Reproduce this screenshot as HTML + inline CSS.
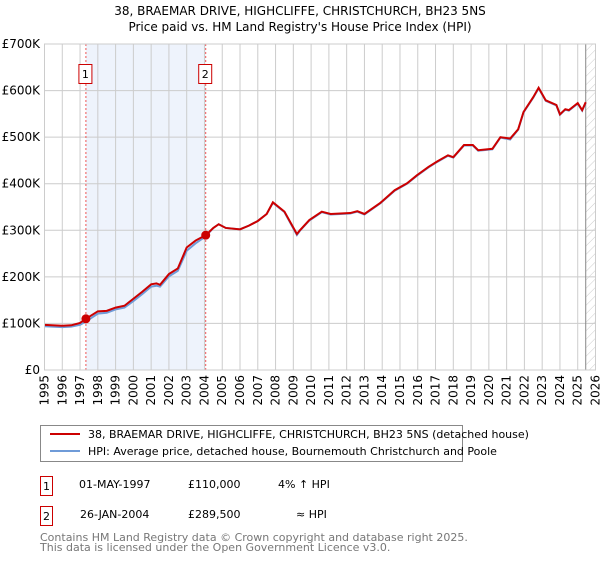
<!DOCTYPE html>
<html><head><meta charset="utf-8"><style>
body{margin:0;background:#fff;font-family:"DejaVu Sans","Liberation Sans",sans-serif;}
svg text{font-family:"DejaVu Sans","Liberation Sans",sans-serif;}
</style></head><body>
<svg id="c" width="600" height="560" xmlns="http://www.w3.org/2000/svg">
<defs><pattern id="hatch" width="6" height="6" patternUnits="userSpaceOnUse" patternTransform="rotate(45)"><line x1="0" y1="0" x2="0" y2="6" stroke="#ccc" stroke-width="1"/></pattern></defs>
<text x="300" y="15" text-anchor="middle" font-size="12">38, BRAEMAR DRIVE, HIGHCLIFFE, CHRISTCHURCH, BH23 5NS</text>
<text x="300" y="31" text-anchor="middle" font-size="12">Price paid vs. HM Land Registry's House Price Index (HPI)</text>
<g id="grid"></g><g id="marks"></g>
<rect x="44.5" y="44" width="551" height="326" fill="none" stroke="#ccc"/>
<g>
<rect x="40.5" y="425.5" width="422" height="36" fill="#fff" stroke="#888"/>
<line x1="50" y1="434" x2="80" y2="434" stroke="#cc0000" stroke-width="2"/>
<text x="88" y="438" font-size="11">38, BRAEMAR DRIVE, HIGHCLIFFE, CHRISTCHURCH, BH23 5NS (detached house)</text>
<line x1="50" y1="451" x2="80" y2="451" stroke="#6f9bd8" stroke-width="2"/>
<text x="88" y="455" font-size="11">HPI: Average price, detached house, Bournemouth Christchurch and Poole</text>
</g>
<g font-size="11">
<rect x="40.5" y="476.5" width="12" height="19" fill="#fff" stroke="#cc0000"/><text x="46.5" y="490" text-anchor="middle">1</text>
<text x="79" y="488">01-MAY-1997</text><text x="188" y="488">£110,000</text><text x="278" y="488">4% ↑ HPI</text>
<rect x="40.5" y="506.5" width="12" height="19" fill="#fff" stroke="#cc0000"/><text x="46.5" y="520" text-anchor="middle">2</text>
<text x="80" y="518">26-JAN-2004</text><text x="188" y="518">£289,500</text><text x="296" y="518">≈ HPI</text>
</g>
<text x="40" y="541" font-size="11" fill="#777">Contains HM Land Registry data © Crown copyright and database right 2025.</text>
<text x="40" y="551" font-size="11" fill="#777">This data is licensed under the Open Government Licence v3.0.</text>
</svg>
<script>
const years=[1995,1996,1997,1998,1999,2000,2001,2002,2003,2004,2005,2006,2007,2008,2009,2010,2011,2012,2013,2014,2015,2016,2017,2018,2019,2020,2021,2022,2023,2024,2025,2026];
const yTicks=[0,100000,200000,300000,400000,500000,600000,700000];
const yTickLabels=["£0","£100K","£200K","£300K","£400K","£500K","£600K","£700K"];
const propT=[1995,1996,1996.5,1997,1997.33,1998,1998.5,1999,1999.5,2000,2000.5,2001,2001.3,2001.5,2002,2002.5,2003,2003.5,2004.07,2004.5,2004.8,2005.2,2006,2006.5,2007,2007.5,2007.85,2008.5,2009.2,2009.37,2009.9,2010.6,2011.1,2012.2,2012.6,2013.0,2013.9,2014.7,2015.4,2015.95,2016.6,2017.1,2017.7,2018.0,2018.6,2019.1,2019.4,2020.2,2020.65,2021.2,2021.65,2021.95,2022.5,2022.8,2023.2,2023.8,2024.0,2024.3,2024.5,2025.0,2025.25,2025.45];
const propV=[97000,95000,96000,101000,110000,126000,127000,134000,138000,153000,168000,184000,186000,183000,206000,218000,263000,278000,289500,305000,313000,305000,302000,310000,320000,335000,360000,340000,292000,300000,322000,340000,335000,337000,341000,335000,359000,386000,401000,418000,436000,448000,461000,457000,483000,483000,472000,475000,500000,497000,517000,554000,586000,606000,579000,569000,549000,560000,558000,573000,558000,575000];
const hpiV=[94000,92000,93000,97000,104000,121000,123000,130000,134000,148000,163000,179000,181000,179000,201000,213000,256000,272000,287000,305000,313000,305000,302000,310000,320000,335000,359000,339000,290000,299000,321000,339000,334000,336000,340000,334000,358000,385000,400000,417000,435000,447000,460000,456000,482000,482000,471000,474000,499000,495000,516000,553000,585000,605000,578000,568000,548000,559000,557000,572000,557000,574000];
const sales=[[1997.33,110000,"1"],[2004.07,289500,"2"]];
const NS="http://www.w3.org/2000/svg";
const X=t=>44.5+(t-1995)*551/31, Y=v=>370-v*326/700000;
function mk(tag,attrs,parent){const e=document.createElementNS(NS,tag);for(const k in attrs)e.setAttribute(k,attrs[k]);parent.appendChild(e);return e;}
const grid=document.getElementById('grid'),marks=document.getElementById('marks');
const band=mk('rect',{x:X(1997.33),y:44,width:X(2004.07)-X(1997.33),height:326,fill:'#eef3fc'},grid);


const hz=mk('rect',{x:X(2025.45),y:44,width:595.5-X(2025.45),height:326,fill:'url(#hatch)'},grid);


years.forEach(y=>{
  mk('line',{x1:X(y),x2:X(y),y1:44,y2:370,stroke:'#ccc'},grid);
  const t=mk('text',{x:0,y:0,'font-size':12,'text-anchor':'end',transform:`translate(${X(y)+4},375) rotate(-90)`},grid);
  t.textContent=y;
  
  
});
yTicks.forEach((v,i)=>{
  mk('line',{x1:44.5,x2:595.5,y1:Y(v),y2:Y(v),stroke:'#ccc'},grid);
  const t=mk('text',{x:40,y:Y(v)+4,'font-size':12,'text-anchor':'end'},grid);
  t.textContent=yTickLabels[i];
  
  
});
mk('line',{x1:X(2025.45),x2:X(2025.45),y1:44,y2:370,stroke:'#888'},grid);
sales.forEach(s=>{
  const l=mk('line',{x1:X(s[0]),x2:X(s[0]),y1:44,y2:370,stroke:'#e55','stroke-dasharray':'2,2'},marks);
  
  
  const b=mk('rect',{x:X(s[0])-7,y:64.5,width:13,height:19,fill:'#fff',stroke:'#cc0000'},marks);
  
  
  const t=mk('text',{x:X(s[0])-0.5,y:78,'font-size':11,'text-anchor':'middle'},marks);
  t.textContent=s[2];
  
  
});
const hp=mk('polyline',{points:propT.map((t,i)=>X(t)+','+Y(hpiV[i])).join(' '),fill:'none',stroke:'#6f9bd8','stroke-width':2},marks);


const pp=mk('polyline',{points:propT.map((t,i)=>X(t)+','+Y(propV[i])).join(' '),fill:'none',stroke:'#cc0000','stroke-width':2},marks);


sales.forEach(s=>{
  const c=mk('circle',{cx:X(s[0]),cy:Y(s[1]),r:4.5,fill:'#cc0000'},marks);
  
  
});
</script>
</body></html>
